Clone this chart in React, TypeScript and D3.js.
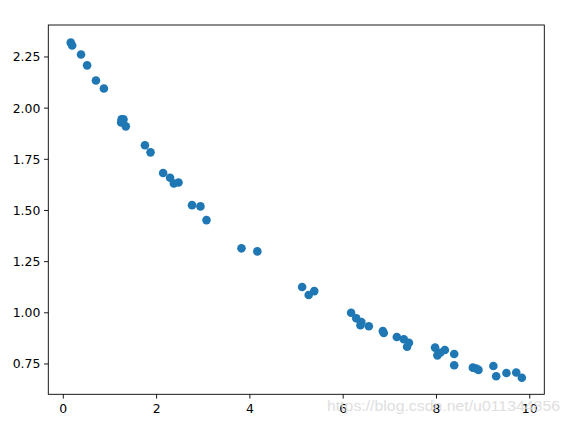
import React from "react";
import * as d3 from "d3";

const xs = [0.16, 0.19, 0.38, 0.51, 0.70, 0.87, 1.25, 1.29, 1.24, 1.34, 1.75, 1.87, 2.14, 2.29, 2.37, 2.47, 2.76, 2.94, 3.07, 3.82, 4.16, 5.12, 5.26, 5.38, 6.17, 6.28, 6.37, 6.39, 6.55, 6.85, 6.87, 7.15, 7.30, 7.41, 7.37, 7.97, 8.02, 8.08, 8.18, 8.38, 8.38, 8.78, 8.85, 8.90, 9.22, 9.28, 9.50, 9.71, 9.83];
const ys = [2.32, 2.306, 2.262, 2.209, 2.135, 2.096, 1.945, 1.945, 1.93, 1.911, 1.819, 1.784, 1.683, 1.660, 1.632, 1.637, 1.526, 1.520, 1.453, 1.315, 1.300, 1.126, 1.087, 1.106, 1.0, 0.973, 0.939, 0.955, 0.934, 0.911, 0.901, 0.882, 0.871, 0.854, 0.834, 0.830, 0.792, 0.805, 0.818, 0.799, 0.744, 0.732, 0.728, 0.721, 0.740, 0.690, 0.706, 0.708, 0.683];
const xTicks = [0, 2, 4, 6, 8, 10];
const yTicks = [0.75, 1.0, 1.25, 1.5, 1.75, 2.0, 2.25];

export default function App() {
  const W = 571, H = 425;
  const L = 48.3, R = 544.3, T = 25, B = 394.3;
  const x = d3.scaleLinear().domain([-0.3216, 10.3116]).range([L, R]);
  const y = d3.scaleLinear().domain([0.6018, 2.4062]).range([B, T]);
  const font = "DejaVu Sans, sans-serif";
  return (
    <svg width={W} height={H} style={{ position: "absolute", left: 0, top: 0, background: "#fff" }}>
      <rect x={0} y={0} width={W} height={H} fill="#fff" />
      {xs.map((v, i) => (
        <circle key={i} cx={x(v)} cy={y(ys[i])} r={4.3} fill="#1f77b4" />
      ))}
      <rect x={L} y={T} width={R - L} height={B - T} fill="none" stroke="#000" strokeWidth={0.9} />
      {xTicks.map((t) => (
        <g key={t}>
          <line x1={x(t)} x2={x(t)} y1={B} y2={B + 4.3} stroke="#000" strokeWidth={0.9} />
          <text x={x(t)} y={B + 18.5} textAnchor="middle" fontFamily={font} fontSize={12.4} fill="#000">{t}</text>
        </g>
      ))}
      {yTicks.map((t) => (
        <g key={t}>
          <line x1={L - 4.3} x2={L} y1={y(t)} y2={y(t)} stroke="#000" strokeWidth={0.9} />
          <text x={L - 8} y={y(t) + 4.5} textAnchor="end" fontFamily={font} fontSize={12.4} fill="#000">{t.toFixed(2)}</text>
        </g>
      ))}
      <text x={327} y={411} fontFamily="Liberation Sans, Arial, sans-serif" fontSize={15} fill="#dcdcdc" textLength={233} lengthAdjust="spacingAndGlyphs" opacity={0.9}>https://blog.csdn.net/u011344856</text>
    </svg>
  );
}
